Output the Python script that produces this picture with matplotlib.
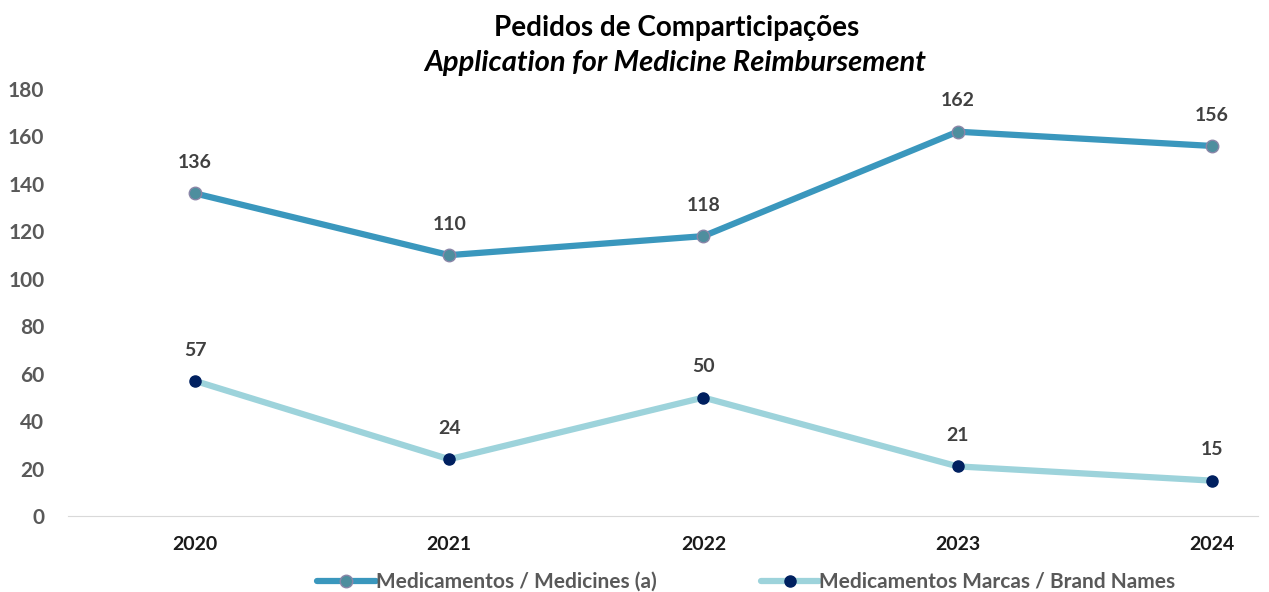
"""
Line chart: Pedidos de Comparticipações / Application for Medicine Reimbursement.
"""

import matplotlib.pyplot as plt

years = ["2020", "2021", "2022", "2023", "2024"]
medicines = [136, 110, 118, 162, 156]
brand_names = [57, 24, 50, 21, 15]

plt.rcParams["font.family"] = ["Lato", "DejaVu Sans"]

fig = plt.figure(figsize=(12.69, 5.92), dpi=100)
ax = fig.add_axes([0.0536, 0.128, 0.9374, 0.7217])

x = list(range(len(years)))
ax.plot(x, medicines, color="#3A97BD", lw=4.5, marker="o", ms=9,
        markerfacecolor="#4E8E9E", markeredgecolor="#8A86A8", markeredgewidth=1,
        label="Medicamentos / Medicines (a)", solid_capstyle="round")
ax.plot(x, brand_names, color="#9DD3DB", lw=4.5, marker="o", ms=8,
        markerfacecolor="#002060", markeredgecolor="#002060",
        label="Medicamentos Marcas / Brand Names", solid_capstyle="round")

for xi, v in zip(x, medicines):
    ax.annotate(str(v), (xi, v), xytext=(0, 16), textcoords="offset points",
                ha="center", va="bottom", fontsize=14, fontweight="bold", color="#404040")
for xi, v in zip(x, brand_names):
    ax.annotate(str(v), (xi, v), xytext=(0, 16), textcoords="offset points",
                ha="center", va="bottom", fontsize=14, fontweight="bold", color="#404040")

ax.set_xlim(-0.5, 4.18)
ax.set_ylim(0, 180)
ax.set_yticks(range(0, 181, 20))
ax.set_xticks(x)
ax.set_xticklabels(years)
ax.tick_params(axis="y", length=0, labelsize=15, labelcolor="#595959", pad=17)
ax.tick_params(axis="x", length=0, labelsize=14, labelcolor="#1A1A1A", pad=14)
for lab in ax.get_xticklabels() + ax.get_yticklabels():
    lab.set_fontweight("bold")

for side in ["top", "right", "left"]:
    ax.spines[side].set_visible(False)
ax.spines["bottom"].set_color("#D9D9D9")

fig.text(0.533, 0.953, "Pedidos de Comparticipações", ha="center", va="center",
         fontsize=20, fontweight="bold", color="#000000")
fig.text(0.532, 0.893, "Application for Medicine Reimbursement", ha="center", va="center",
         fontsize=21, fontweight="bold", style="italic", color="#000000")

leg = fig.legend(loc="center", bbox_to_anchor=(0.588, 0.017), ncol=2, frameon=False,
                 handlelength=2.8, columnspacing=5, handletextpad=0.0,
                 prop={"size": 15, "weight": "bold"})
for t in leg.get_texts():
    t.set_color("#595959")

fig.savefig("out.png", dpi=100)
